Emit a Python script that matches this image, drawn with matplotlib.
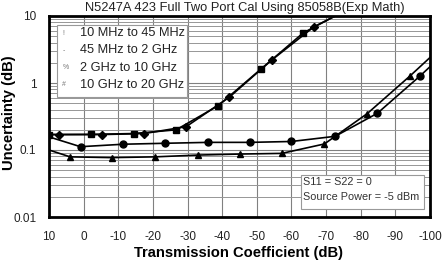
import matplotlib
matplotlib.use("Agg")
import matplotlib.pyplot as plt
from matplotlib.patches import Rectangle

plt.rcParams["font.family"] = ["Liberation Sans", "DejaVu Sans"]
plt.rcParams["axes.unicode_minus"] = False

# values (x in dB, y in dB uncertainty)
# 10 MHz to 45 MHz, squares; the last point is where the line leaves the top
sq_x = [10, -2.2, -14.4, -26.7, -38.9, -51.1, -63.4, -72.6]
sq_y = [0.17, 0.171, 0.176, 0.20, 0.46, 1.6, 5.6, 10]
# 45 MHz to 2 GHz, diamonds
dm_x = [10, 7.0, -5.2, -17.5, -29.6, -42.0, -54.3, -66.5, -72.6]
dm_y = [0.17, 0.17, 0.17, 0.176, 0.223, 0.61, 2.2, 6.9, 10]
# 2 GHz to 10 GHz, circles
ci_x = [10, 0.9, -11.5, -23.6, -36.0, -48.0, -60.0, -72.6, -84.8, -97.1, -100]
ci_y = [0.157, 0.112, 0.122, 0.126, 0.13, 0.13, 0.134, 0.16, 0.353, 1.27, 1.75]
# 10 GHz to 20 GHz, triangles
tr_x = [10, 3.9, -8.1, -20.6, -32.9, -45.1, -57.2, -69.5, -81.9, -94.2, -100]
tr_y = [0.1, 0.079, 0.077, 0.079, 0.084, 0.087, 0.089, 0.123, 0.35, 1.27, 2.4]

legend_symbols = ["!", "-", "%", "#"]
legend_labels = ["10 MHz to 45 MHz", "45 MHz to 2 GHz", "2 GHz to 10 GHz", "10 GHz to 20 GHz"]
x_ticks = [10, 0, -10, -20, -30, -40, -50, -60, -70, -80, -90, -100]
y_ticks = [0.01, 0.1, 1, 10]
y_tick_labels = ["0.01", "0.1", "1", "10"]

fig = plt.figure(figsize=(4.43, 2.63), dpi=100)
ax = fig.add_axes([49 / 443, 1 - 217 / 263, 381 / 443, 201 / 263])

ax.set_yscale("log")
ax.set_xlim(10, -100)
ax.set_ylim(0.01, 10)

ax.grid(True, which="major", color="#808080", lw=0.8)
ax.grid(True, which="minor", axis="y", color="#969696", lw=0.7)
ax.set_axisbelow(True)

lw = 1.2
ax.plot(sq_x, sq_y, color="black", lw=lw, marker="s", ms=5,
        markevery=list(range(len(sq_x) - 1)))
ax.plot(dm_x, dm_y, color="black", lw=lw, marker="D", ms=3.8,
        markevery=list(range(1, len(dm_x) - 1)))
ax.plot(ci_x, ci_y, color="black", lw=lw, marker="o", ms=5,
        markevery=list(range(1, len(ci_x) - 1)))
ax.plot(tr_x, tr_y, color="black", lw=lw, marker="^", ms=5,
        markevery=list(range(1, len(tr_x) - 1)))

ax.set_xticks(x_ticks)
ax.set_xticklabels([str(t) for t in x_ticks])
ax.set_yticks(y_ticks)
ax.set_yticklabels(y_tick_labels)
ax.yaxis.set_minor_locator(matplotlib.ticker.LogLocator(base=10, subs=range(2, 10)))
ax.yaxis.set_minor_formatter(matplotlib.ticker.NullFormatter())
ax.tick_params(which="both", length=0, labelsize=8.5, colors="#222222")
ax.tick_params(axis="x", pad=10)
ax.tick_params(axis="y", pad=9)
for s in ax.spines.values():
    s.set_linewidth(2)

fig.text(239 / 443, 1 - 253 / 263, "Transmission Coefficient (dB)", fontsize=10.6,
         fontweight="bold", ha="center", va="center")
fig.text(9 / 443, 1 - 113 / 263, "Uncertainty (dB)", rotation=90, fontsize=10.6,
         fontweight="bold", ha="center", va="center")
fig.text(245 / 443, 1 - 10.5 / 263, "N5247A 423 Full Two Port Cal Using 85058B(Exp Math)",
         fontsize=9.3, ha="center", va="baseline", color="#222222")

# legend box
ax.add_patch(Rectangle((0.021, 0.597), 0.341, 0.358, transform=ax.transAxes,
                       facecolor="white", edgecolor="#999999", lw=0.8, zorder=5))
for i, (sym, lab) in enumerate(zip(legend_symbols, legend_labels)):
    yy = 0.915 - i * 0.086
    ax.text(0.035, yy, sym, transform=ax.transAxes, fontsize=5, color="#777777",
            ha="left", va="center", zorder=6)
    ax.text(0.081, yy, lab, transform=ax.transAxes, fontsize=9.2, color="#222222",
            ha="left", va="center", zorder=6)

# condition box
ax.add_patch(Rectangle((0.661, 0.04), 0.323, 0.169, transform=ax.transAxes,
                       facecolor="white", edgecolor="#999999", lw=0.8, zorder=5))
ax.text(0.667, 0.176, "S11 = S22 = 0", transform=ax.transAxes, fontsize=7.8,
        color="#333333", ha="left", va="center", zorder=6)
ax.text(0.667, 0.101, "Source Power = -5 dBm", transform=ax.transAxes, fontsize=7.8,
        color="#333333", ha="left", va="center", zorder=6)

fig.savefig("out.png", dpi=100)
